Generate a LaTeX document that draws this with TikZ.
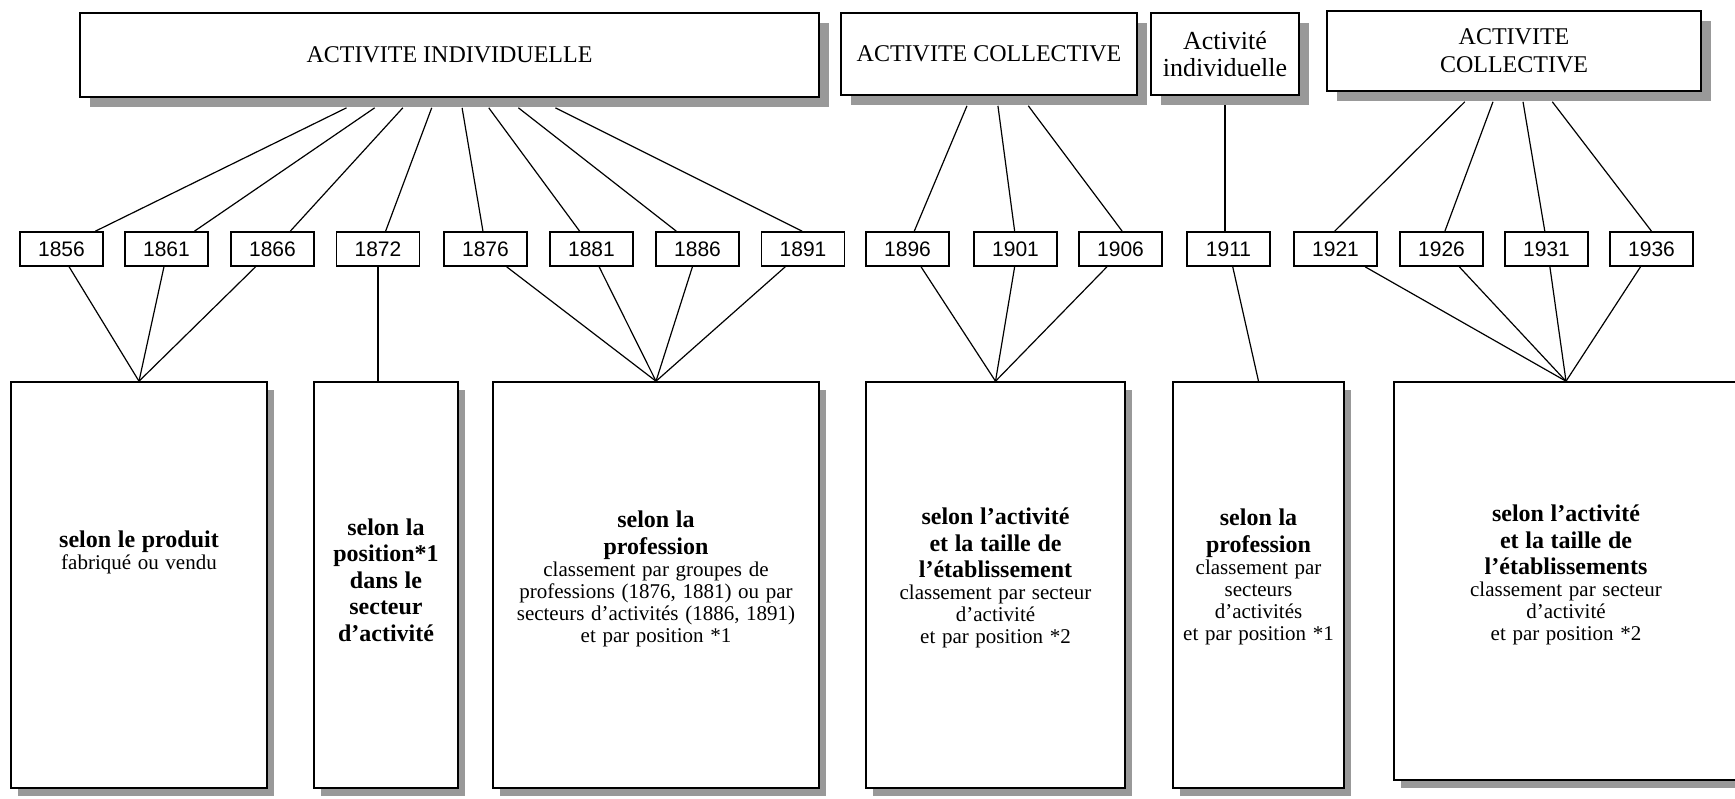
\documentclass[tikz,border=0pt]{standalone}
\usepackage{fontspec}
\setmainfont{Liberation Serif}
\newfontfamily\yearfont{Liberation Sans}
\usetikzlibrary{calc,shadows}
\pgfdeclarelayer{background}
\pgfsetlayers{background,main}
\newcommand\mybig{\fontsize{12}{13.3}\selectfont\bfseries}
\newcommand\mysmall{\fontsize{10.5}{11}\selectfont}
\begin{document}
\begin{tikzpicture}[x=0.5pt,y=-0.5pt,
  topbox/.style={draw, line width=0.8pt, fill=white, inner sep=0pt, align=center,
    font=\fontsize{12}{14}\selectfont,
    drop shadow={shadow xshift=5pt, shadow yshift=-5pt, fill=black!40, opacity=1}},
  yearbox/.style={draw, line width=0.8pt, fill=white, inner sep=0pt,
    minimum width=41.5pt, minimum height=17pt, font=\yearfont\fontsize{10.5}{13}\selectfont},
  botbox/.style={draw, line width=0.8pt, fill=white, inner sep=0pt, minimum height=203pt,
    drop shadow={shadow xshift=3.5pt, shadow yshift=-4pt, fill=black!40, opacity=1}},
  lbl/.style={align=center, inner sep=0pt},
  conn/.style={line width=0.6pt}]
\useasboundingbox (0,0) rectangle (1735,798);

% top boxes
\node[topbox, minimum width=369.5pt, minimum height=42pt] (T1) at (449.5,55) {ACTIVITE INDIVIDUELLE};
\node[topbox, minimum width=148pt, minimum height=41pt] (T2) at (989,54) {ACTIVITE COLLECTIVE};
\node[topbox, minimum width=74pt, minimum height=41pt, font=\fontsize{13}{13.3}\selectfont] (T3) at (1225,54) {Activité\\individuelle};
\node[topbox, minimum width=187pt, minimum height=40pt] (T4) at (1514,51) {ACTIVITE\\COLLECTIVE};

% years
\foreach \yr/\cx in {1856/61.5, 1861/166.5, 1866/272.5, 1872/378, 1876/485.5, 1881/591.5,
  1886/697.5, 1891/803, 1896/907.5, 1901/1015.5, 1906/1120.5, 1911/1228.5,
  1921/1335.5, 1926/1441.5, 1931/1546.5, 1936/1651.5}
  \node[yearbox] (y\yr) at (\cx,249) {\yr};

% bottom boxes
\node[botbox, minimum width=128pt] (A) at (139,585) {};
\node[botbox, minimum width=72pt] (B) at (386,585) {};
\node[botbox, minimum width=163pt] (C) at (656,585) {};
\node[botbox, minimum width=129.5pt] (D) at (995.5,585) {};
\node[botbox, minimum width=85.5pt] (E) at (1258.5,585) {};
\node[botbox, minimum width=172pt, minimum height=199pt] (F) at (1566,581) {};

% labels
\node[lbl, text width=120pt] (lA) at (139,552) {{\mybig selon le produit\par}{\mysmall fabriqué ou vendu\par}};
\node[lbl, text width=70pt] (lB) at (386,580) {{\mybig selon la\\position*1\\dans le\\secteur\\d’activité\par}};
\node[lbl, text width=160pt] (lC) at (656,579) {{\mybig selon la\\profession\par}{\mysmall classement par groupes de\\professions (1876, 1881) ou par\\secteurs d’activités (1886, 1891)\\et par position *1\par}};
\node[lbl, text width=125pt] (lD) at (995.5,578) {{\mybig selon l’activité\\et la taille de\\l’établissement\par}{\mysmall classement par secteur\\d’activité\\et par position *2\par}};
\node[lbl, text width=82pt] (lE) at (1258.5,577) {{\mybig selon la\\profession\par}{\mysmall classement par\\secteurs\\d’activités\\et par position *1\par}};
\node[lbl, text width=140pt] (lF) at (1566,575) {{\mybig selon l’activité\\et la taille de\\l’établissements\par}{\mysmall classement par secteur\\d’activité\\et par position *2\par}};

% connectors
\begin{pgfonlayer}{background}
\foreach \yr/\a/\b in {1856/0.361/0.9, 1861/0.399/0.83, 1866/0.437/0.71, 1872/0.476/0.59,
  1876/0.517/0.47, 1881/0.553/0.36, 1886/0.593/0.25, 1891/0.643/0.49}
  \draw[conn] ($(T1.south west)!\a!(T1.south east)+(0,10)$) -- ($(y\yr.north west)!\b!(y\yr.north east)$);
\foreach \yr/\a/\b in {1896/0.426/0.58, 1901/0.53/0.49, 1906/0.632/0.52}
  \draw[conn] ($(T2.south west)!\a!(T2.south east)+(0,10)$) -- ($(y\yr.north west)!\b!(y\yr.north east)$);
\draw[conn] (T3.south) -- (T3.south |- y1911.north);
\foreach \yr/\a/\b in {1921/0.369/0.49, 1926/0.444/0.54, 1931/0.524/0.48, 1936/0.602/0.5}
  \draw[conn] ($(T4.south west)!\a!(T4.south east)+(0,10)$) -- ($(y\yr.north west)!\b!(y\yr.north east)$);
\foreach \yr/\a in {1856/0.59, 1861/0.47, 1866/0.30}
  \draw[conn] ($(y\yr.south west)!\a!(y\yr.south east)$) -- (A.north);
\draw[conn] (y1872.south) -- (y1872.south |- B.north);
\foreach \yr/\a in {1876/0.75, 1881/0.59, 1886/0.44, 1891/0.29}
  \draw[conn] ($(y\yr.south west)!\a!(y\yr.south east)$) -- (C.north);
\foreach \yr/\a in {1896/0.66, 1901/0.49, 1906/0.34}
  \draw[conn] ($(y\yr.south west)!\a!(y\yr.south east)$) -- (D.north);
\draw[conn] ($(y1911.south west)!0.55!(y1911.south east)$) -- (E.north);
\foreach \yr/\a in {1921/0.85, 1926/0.71, 1931/0.54, 1936/0.37}
  \draw[conn] ($(y\yr.south west)!\a!(y\yr.south east)$) -- (F.north);
\end{pgfonlayer}
\end{tikzpicture}
\end{document}
